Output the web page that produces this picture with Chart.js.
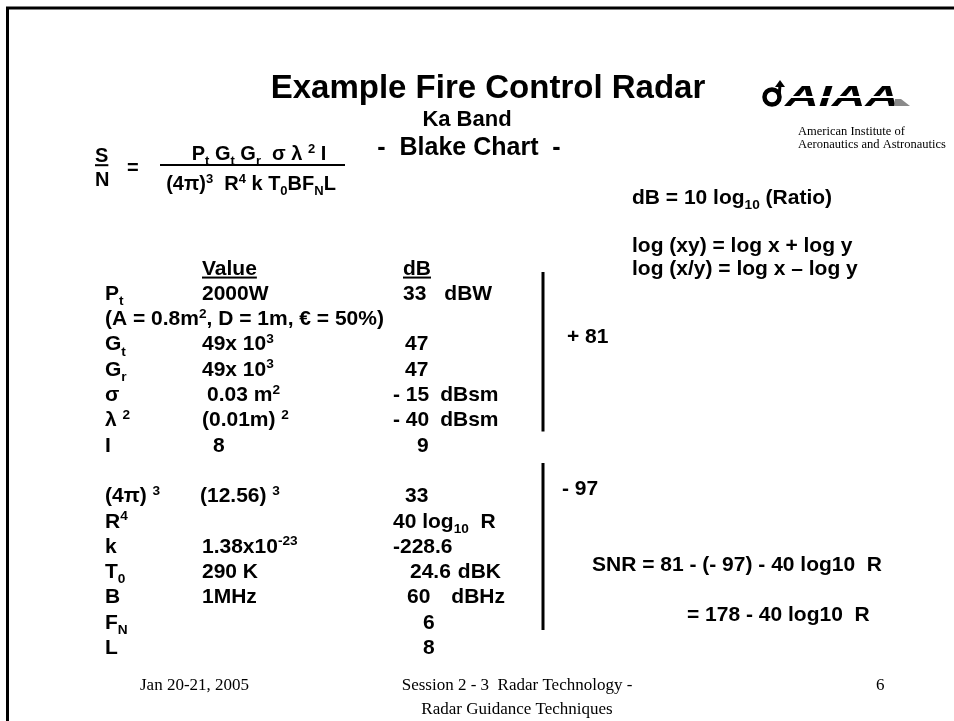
<!DOCTYPE html>
<html>
<head>
<meta charset="utf-8">
<title>Example Fire Control Radar - Blake Chart</title>
<script src="https://cdn.jsdelivr.net/npm/chart.js@4.4.1/dist/chart.umd.min.js"></script>
<style>
    html, body { margin: 0; padding: 0; background: #ffffff; }
    #wrap { width: 954px; height: 721px; }
</style>
</head>
<body>
<div id="wrap"><canvas id="BlakeChart" width="954" height="721"></canvas></div>
<script>
// ---------------- Data ----------------
const titleText = "Example Fire Control Radar";
const bandText = "Ka Band";
const subtitleText = "-  Blake Chart  -";
const columnHeads = ["Value", "dB"];

// one entry per table row, the column heads sit on the line above
const symbols = ["P_{t}", "(A = 0.8m^{2}, D = 1m, € = 50%)", "G_{t}", "G_{r}", "σ", "λ ^{2}", "I", "",
    "(4π) ^{3}", "R^{4}", "k", "T_{0}", "B", "F_{N}", "L"];
const values = ["2000W", "", "49x 10^{3}", "49x 10^{3}", "0.03 m^{2}", "(0.01m) ^{2}", "8", "",
    "(12.56) ^{3}", "", "1.38x10^{-23}", "290 K", "1MHz", "", ""];
const dbValues = ["33", "", "47", "47", "- 15", "- 40", "9", "",
    "33", "40 log_{10}  R", "-228.6", "24.6", "60", "6", "8"];
const dbUnits = ["dBW", "", "", "", "dBsm", "dBsm", "", "",
    "", "", "", "dBK", "dBHz", "", ""];

const gainTotal = 81;
const lossTotal = -97;
const snrLines = ["SNR = 81 - (- 97) - 40 log10  R", "= 178 - 40 log10  R"];
const identities = ["dB = 10 log_{10} (Ratio)", "log (xy) = log x + log y", "log (x/y) = log x – log y"];
const numerator = "P_{t} G_{t} G_{r}  σ λ ^{2} I";
const denominator = "(4π)^{3}  R^{4} k T_{0}BF_{N}L";
const logoLines = ["AIAA", "American Institute of", "Aeronautics and Astronautics"];
const footerLeft = "Jan 20-21, 2005";
const footerCenter = ["Session 2 - 3  Radar Technology -", "Radar Guidance Techniques"];
const pageNumber = "6";


// ---------------- Layout ----------------
const pageW = 954, pageH = 721;
const rowTop = 267, rowStep = 25.3;
const bodySize = 21;
const colSym = 105, colVal = 202, colDb = 403;
const valShift = [0, 0, 0, 0, 5, 0, 11, 0, -2, 0, 0, 0, 0, 0, 0];
const dbShift = [0, 0, 2, 2, -10, -10, 14, 0, 2, -10, -10, 7, 4, 20, 20];
const unitGap = [18, 0, 0, 0, 11, 11, 0, 0, 0, 0, 0, 7, 21, 0, 0];

const SANS = '"Liberation Sans", Arial, sans-serif';
const SERIF = '"Liberation Serif", "Times New Roman", serif';


// ---------------- Rich text helpers ----------------
function richParts(str) {
    const out = [];
    const re = /([_^])\{([^}]*)\}/g;
    let last = 0, m;
    while ((m = re.exec(str))) {
        if (m.index > last) out.push({t: str.slice(last, m.index), mode: "n"});
        out.push({t: m[2], mode: m[1] === "_" ? "sub" : "sup"});
        last = re.lastIndex;
    }
    if (last < str.length) out.push({t: str.slice(last), mode: "n"});
    return out;
}

function fontFor(size, weight, family) {
    return `${weight} ${size}px ${family}`;
}

function drawRich(ctx, str, x, yMid, size, opts) {
    opts = opts || {};
    const weight = opts.weight || "bold";
    const family = opts.family || SANS;
    const parts = richParts(str);
    let w = 0;
    parts.forEach(p => {
        ctx.font = fontFor(p.mode === "n" ? size : size * 0.65, weight, family);
        w += ctx.measureText(p.t).width;
    });
    let cx = x;
    if (opts.align === "center") cx = x - w / 2;
    if (opts.align === "right") cx = x - w;
    const startX = cx;
    const base = yMid + size * 0.36;
    ctx.textAlign = "left";
    ctx.textBaseline = "alphabetic";
    ctx.fillStyle = "#000000";
    parts.forEach(p => {
        const s = p.mode === "n" ? size : size * 0.65;
        ctx.font = fontFor(s, weight, family);
        const dy = p.mode === "sub" ? size * 0.24 : (p.mode === "sup" ? -size * 0.36 : 0);
        ctx.fillText(p.t, cx, base + dy);
        cx += ctx.measureText(p.t).width;
    });
    if (opts.underline) {
        ctx.fillRect(startX, base + 2, w, 2);
    }
    return w;
}


// ---------------- Slide text plugin ----------------
const slideText = {
    id: "slideText",
    afterDatasetsDraw(chart) {
        const ctx = chart.ctx;
        const sx = chart.scales.x;
        const sp = chart.scales.page;
        const sr = chart.scales.rows;
        const X = v => sx.getPixelForValue(v);
        const P = v => sp.getPixelForValue(v);
        const R = v => sr.getPixelForValue(v);

        ctx.save();

        // heading
        drawRich(ctx, titleText, X(488), P(86), 33, {align: "center"});
        drawRich(ctx, bandText, X(467), P(118), 22, {align: "center"});
        drawRich(ctx, subtitleText, X(469), P(146), 25, {align: "center"});

        // radar equation
        drawRich(ctx, "S", X(95), P(155), 20, {underline: true});
        drawRich(ctx, "N", X(95), P(179), 20);
        drawRich(ctx, "=", X(127), P(167), 20);
        drawRich(ctx, numerator, X(259), P(153), 20, {align: "center"});
        drawRich(ctx, denominator, X(251), P(183), 20, {align: "center"});

        // identities
        drawRich(ctx, identities[0], X(632), P(196), bodySize);
        drawRich(ctx, identities[1], X(632), P(244), bodySize);
        drawRich(ctx, identities[2], X(632), P(267), bodySize);

        // table
        drawRich(ctx, columnHeads[0], X(colVal), R(0), bodySize, {underline: true});
        drawRich(ctx, columnHeads[1], X(colDb), R(0), bodySize, {underline: true});
        symbols.forEach((sym, i) => {
            const r = i + 1;
            if (sym) drawRich(ctx, sym, X(colSym), R(r), bodySize);
            if (values[i]) drawRich(ctx, values[i], X(colVal + valShift[i]), R(r), bodySize);
            if (dbValues[i]) {
                const w = drawRich(ctx, dbValues[i], X(colDb + dbShift[i]), R(r), bodySize);
                if (dbUnits[i]) {
                    drawRich(ctx, dbUnits[i], X(colDb + dbShift[i] + w + unitGap[i]), R(r), bodySize);
                }
            }
        });

        // totals and result
        drawRich(ctx, "+ " + gainTotal, X(567), R(2.69), bodySize);
        drawRich(ctx, "- " + Math.abs(lossTotal), X(562), R(8.73), bodySize);
        drawRich(ctx, snrLines[0], X(592), R(11.7), bodySize);
        drawRich(ctx, snrLines[1], X(687), R(13.68), bodySize);

        // AIAA logo
        ctx.strokeStyle = "#000000";
        ctx.fillStyle = "#000000";
        ctx.lineWidth = 4.5;
        ctx.beginPath();
        ctx.arc(X(772), P(97), 7.5, 0, Math.PI * 2);
        ctx.stroke();
        ctx.lineWidth = 3;
        ctx.beginPath();
        ctx.moveTo(X(779), P(97));
        ctx.lineTo(X(780), P(85));
        ctx.stroke();
        ctx.beginPath();
        ctx.moveTo(X(775), P(87));
        ctx.lineTo(X(780), P(80));
        ctx.lineTo(X(785), P(87));
        ctx.fill();

        ctx.font = fontFor(30, "italic bold", SANS);
        ctx.textBaseline = "alphabetic";
        ctx.textAlign = "left";
        const aiaaW = ctx.measureText(logoLines[0]).width;
        ctx.save();
        ctx.translate(X(785), P(106));
        ctx.scale(114 / aiaaW, 1);
        ctx.fillText(logoLines[0], 0, 0);
        ctx.restore();
        ctx.fillStyle = "#ffffff";
        ctx.fillRect(X(783), P(96), 120, 2);
        ctx.fillStyle = "#8a8a8a";
        ctx.beginPath();
        ctx.moveTo(X(895), P(99));
        ctx.lineTo(X(901), P(99));
        ctx.lineTo(X(910), P(106));
        ctx.lineTo(X(894), P(106));
        ctx.fill();
        ctx.fillStyle = "#000000";
        ctx.font = fontFor(12.5, "normal", SERIF);
        ctx.fillText(logoLines[1], X(798), P(135));
        ctx.fillText(logoLines[2], X(798), P(148));

        // footer
        drawRich(ctx, footerLeft, X(140), P(684), 17, {weight: "normal", family: SERIF});
        drawRich(ctx, footerCenter[0], X(517), P(684), 17, {weight: "normal", family: SERIF, align: "center"});
        drawRich(ctx, footerCenter[1], X(517), P(708), 17, {weight: "normal", family: SERIF, align: "center"});
        drawRich(ctx, pageNumber, X(876), P(684), 17, {weight: "normal", family: SERIF});

        ctx.restore();
    }
};


// ---------------- Chart ----------------
function segment(x0, y0, x1, y1, axis, width) {
    return {
        data: [{x: x0, y: y0}, {x: x1, y: y1}],
        yAxisID: axis,
        showLine: true,
        borderColor: "#000000",
        backgroundColor: "#000000",
        borderWidth: width,
        pointRadius: 0,
        borderCapStyle: "butt"
    };
}

document.addEventListener("DOMContentLoaded", () => {
    const ctx = document.getElementById("BlakeChart").getContext("2d");

    new Chart(ctx, {
        type: "scatter",
        data: {
            datasets: [
                segment(6, 8, pageW, 8, "page", 3),
                segment(7.5, 7, 7.5, pageH, "page", 3),
                segment(160, 165, 345, 165, "page", 2),
                segment(543, 0.2, 543, 6.5, "rows", 3),
                segment(543, 7.75, 543, 14.35, "rows", 3)
            ]
        },
        options: {
            responsive: false,
            animation: false,
            devicePixelRatio: 1,
            layout: { padding: 0 },
            scales: {
                x: { type: "linear", min: 0, max: pageW, display: false },
                page: { type: "linear", axis: "y", min: 0, max: pageH, reverse: true, display: false },
                rows: {
                    type: "linear", axis: "y", reverse: true, display: false,
                    min: -rowTop / rowStep,
                    max: (pageH - rowTop) / rowStep
                }
            },
            plugins: {
                legend: { display: false },
                tooltip: { enabled: false }
            }
        },
        plugins: [slideText]
    });
});
</script>
</body>
</html>
